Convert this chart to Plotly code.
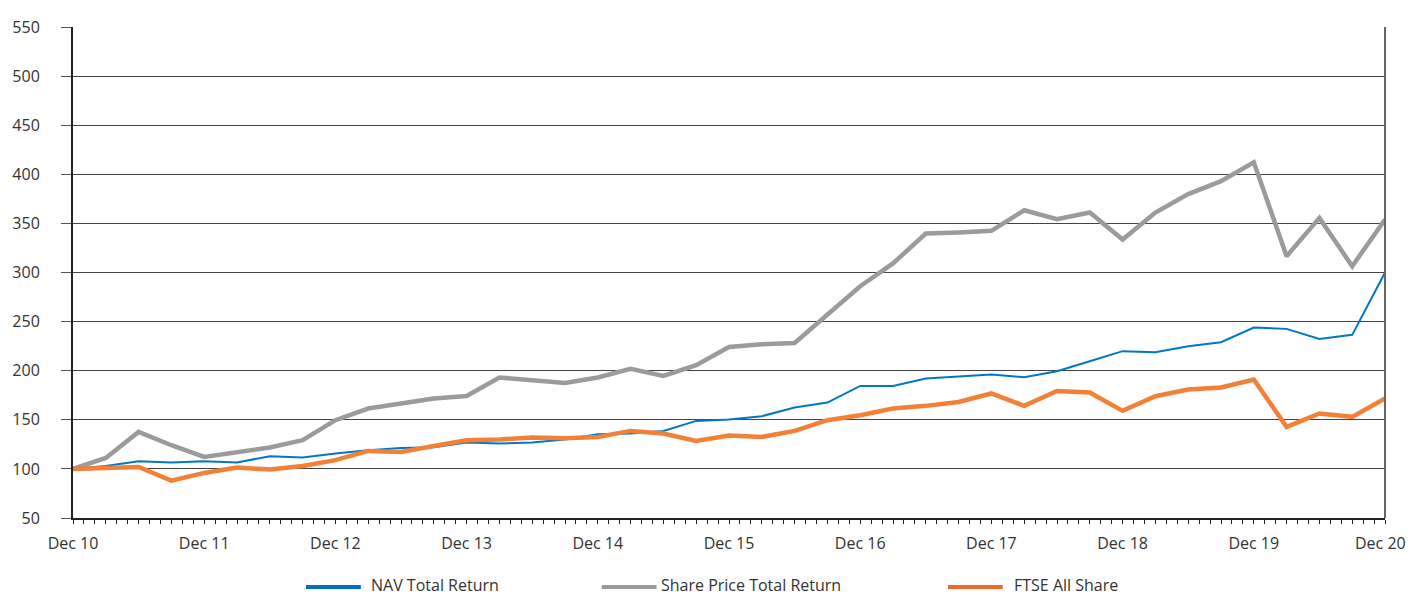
import plotly.graph_objects as go

quarters = [
    "Dec 10", "Mar 11", "Jun 11", "Sep 11", "Dec 11", "Mar 12", "Jun 12", "Sep 12",
    "Dec 12", "Mar 13", "Jun 13", "Sep 13", "Dec 13", "Mar 14", "Jun 14", "Sep 14",
    "Dec 14", "Mar 15", "Jun 15", "Sep 15", "Dec 15", "Mar 16", "Jun 16", "Sep 16",
    "Dec 16", "Mar 17", "Jun 17", "Sep 17", "Dec 17", "Mar 18", "Jun 18", "Sep 18",
    "Dec 18", "Mar 19", "Jun 19", "Sep 19", "Dec 19", "Mar 20", "Jun 20", "Sep 20",
    "Dec 20",
]

nav_total_return = [
    100, 103, 107.8, 106.5, 107.8, 106.5, 112.9, 111.6, 115.7, 119, 121.4, 122.1,
    126.9, 125.9, 126.9, 129.9, 135.3, 136, 138.7, 148.9, 150.3, 153.7, 162.5, 167.6,
    184.5, 184.5, 192, 193.7, 196.1, 193.4, 199.5, 209.7, 219.9, 218.8, 224.9, 229,
    244, 242.6, 232.4, 236.5, 300,
]

share_price_total_return = [
    100, 111.2, 137.7, 124.1, 112.2, 116.7, 121.8, 129.2, 149.6, 161.5, 166.6, 171.7,
    174.3, 193.1, 190.3, 187.6, 193.1, 201.9, 194.7, 205.6, 224.2, 227, 228.3, 256.5,
    286, 309.2, 339.7, 340.8, 342.4, 363.4, 354.3, 361.1, 333.6, 361.1, 379.8, 393,
    412.3, 316.6, 355.6, 306.4, 353.8,
]

ftse_all_share = [
    100, 101, 102, 88, 95.9, 101.4, 99.4, 103, 108.9, 118.3, 117.3, 123.4,
    129.2, 129.9, 132, 131.3, 132.6, 138.7, 136, 128.5, 134, 132.6, 138.7, 149.6,
    154.7, 161.5, 164.2, 168.2, 176.8, 164.2, 179.4, 177.8, 159.1, 174, 180.9, 182.9,
    191, 142.8, 156.4, 153, 171.7,
]

y_ticks = [50, 100, 150, 200, 250, 300, 350, 400, 450, 500, 550]

series_names = ["NAV Total Return", "Share Price Total Return", "FTSE All Share"]
series_values = [nav_total_return, share_price_total_return, ftse_all_share]
series_colors = ["#0077C8", "#9B9B9B", "#F28037"]
legend_colors = ["#0070C0", "#9B9B9B", "#F26A2A"]
series_widths = [2, 4.5, 4.5]

FONT = "Open Sans"
TEXT = "#333333"

xs = list(range(len(quarters)))
dec_idx = [i for i, q in enumerate(quarters) if q.startswith("Dec")]
last = len(quarters) - 1

fig = go.Figure()
# draw grey first so blue and orange sit on top of it
for k in [1, 0, 2]:
    fig.add_trace(go.Scatter(
        x=xs, y=series_values[k], mode="lines", name=series_names[k],
        line=dict(color=series_colors[k], width=series_widths[k]), showlegend=False,
        text=quarters,
        hovertemplate="%{text}: %{y}<extra>" + series_names[k] + "</extra>",
    ))

fig.update_layout(
    width=1408, height=595,
    margin=dict(l=70, r=23, t=27, b=77),
    paper_bgcolor="white", plot_bgcolor="white",
    font=dict(family=FONT, size=16, color=TEXT),
    xaxis=dict(
        range=[0, last],
        tickmode="array",
        tickvals=dec_idx,
        ticktext=[quarters[i] if i != last else "" for i in dec_idx],
        ticks="outside", ticklen=4, tickwidth=1, tickcolor="#222222",
        ticklabelstandoff=6,
        showgrid=False, zeroline=False,
        showline=True, linecolor="#222222", linewidth=2,
        minor=dict(ticks="outside", ticklen=4, tickwidth=1, tickcolor="#222222",
                   tickmode="linear", tick0=0, dtick=1 / 3, showgrid=False),
        tickfont=dict(family=FONT, size=16, color=TEXT),
    ),
    yaxis=dict(
        range=[50, 550],
        tickmode="array", tickvals=y_ticks,
        ticks="outside", ticklen=10, tickwidth=1, tickcolor="#555555",
        ticklabelstandoff=18,
        showgrid=True, gridcolor="#444444", gridwidth=1,
        zeroline=False,
        showline=True, linecolor="#222222", linewidth=2,
        tickfont=dict(family=FONT, size=16, color=TEXT),
    ),
)

# last x label sits flush with the right edge of the page
fig.add_annotation(xref="x", yref="paper", x=last, y=0, yshift=-13, xshift=22,
                   text=quarters[last], showarrow=False, xanchor="right", yanchor="top",
                   borderpad=0, font=dict(family=FONT, size=16, color=TEXT))

# right border of the plot area
fig.add_shape(type="line", xref="paper", yref="paper", x0=1, x1=1, y0=0, y1=1,
              line=dict(color="#666666", width=2))

# custom legend below the chart
legend_line_x = [0.1776, 0.4030, 0.6669]
legend_text_x = [0.2266, 0.4471, 0.7163]
seg_len = 0.0418
for name, col, lx, tx in zip(series_names, legend_colors, legend_line_x, legend_text_x):
    fig.add_shape(type="line", xref="paper", yref="paper",
                  x0=lx, x1=lx + seg_len, y0=-0.1405, y1=-0.1405,
                  line=dict(color=col, width=4))
    fig.add_annotation(xref="paper", yref="paper", x=tx, y=-0.1369,
                       text=name, showarrow=False, xanchor="left", yanchor="middle",
                       borderpad=0, font=dict(family=FONT, size=16, color=TEXT))

fig.write_html("out.html")
